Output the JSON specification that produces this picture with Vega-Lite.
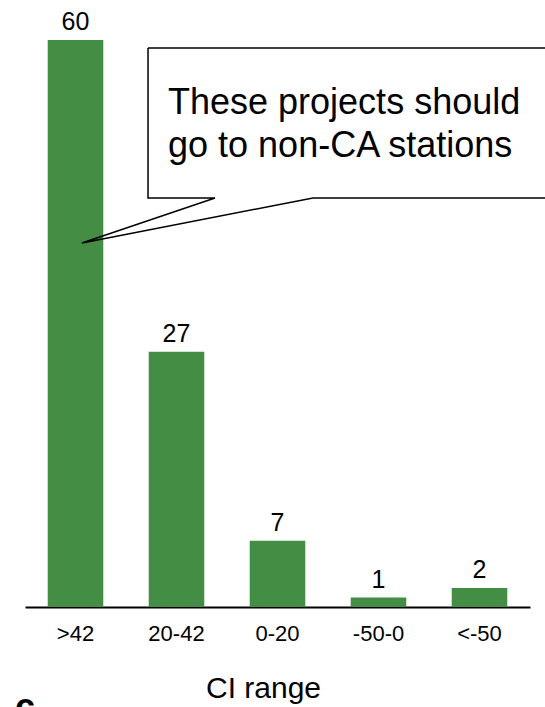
{
  "$schema": "https://vega.github.io/schema/vega-lite/v6.json",
  "width": 505,
  "height": 567,
  "autosize": {"type": "none"},
  "padding": {"left": 25, "top": 40, "right": 15, "bottom": 100},
  "config": {"view": {"stroke": null}, "font": "Liberation Sans"},
  "datasets": {
    "bars": [
      {"range": ">42", "count": 60},
      {"range": "20-42", "count": 27},
      {"range": "0-20", "count": 7},
      {"range": "-50-0", "count": 1},
      {"range": "<-50", "count": 2}
    ],
    "callout": [
      {"i": 0, "u": 1.218, "v": 59.15},
      {"i": 1, "u": 5.3, "v": 59.15},
      {"i": 2, "u": 5.3, "v": 43.28},
      {"i": 3, "u": 2.851, "v": 43.28},
      {"i": 4, "u": 0.564, "v": 38.52},
      {"i": 5, "u": 1.881, "v": 43.28},
      {"i": 6, "u": 1.218, "v": 43.28},
      {"i": 7, "u": 1.218, "v": 59.15}
    ],
    "notes": [
      {"u": 1.416, "v": 52.17, "label": ["These projects should", "go to non-CA stations"]}
    ],
    "panel": [
      {"u": -0.1, "v": -11.9, "label": "c"}
    ]
  },
  "layer": [
    {
      "data": {"name": "bars"},
      "encoding": {
        "x": {
          "field": "range",
          "type": "nominal",
          "sort": null,
          "scale": {"paddingInner": 0.45, "paddingOuter": 0.225},
          "axis": {
            "title": "CI range",
            "labelAngle": 0,
            "labelFontSize": 22,
            "labelColor": "#000000",
            "labelPadding": 16,
            "ticks": false,
            "tickSize": 0,
            "domainColor": "#000000",
            "domainWidth": 2,
            "titleFontSize": 30,
            "titleFontWeight": "normal",
            "titleColor": "#000000",
            "titleX": 238,
            "titleY": 90,
            "titleAlign": "center",
            "titleBaseline": "alphabetic"
          }
        },
        "y": {
          "field": "count",
          "type": "quantitative",
          "scale": {"domain": [0, 60], "nice": false},
          "axis": null
        }
      },
      "layer": [
        {"mark": {"type": "bar", "color": "#438E44"}},
        {
          "mark": {"type": "text", "baseline": "alphabetic", "dy": -10, "fontSize": 25, "color": "#000000"},
          "encoding": {"text": {"field": "count", "type": "quantitative"}}
        }
      ]
    },
    {
      "data": {"name": "callout"},
      "mark": {"type": "line", "color": "#000000", "strokeWidth": 1.5, "clip": false},
      "encoding": {
        "x": {"field": "u", "type": "quantitative", "scale": {"domain": [0, 5], "nice": false, "zero": false}, "axis": null},
        "y": {"field": "v", "type": "quantitative", "scale": {"domain": [0, 60], "nice": false}, "axis": null},
        "order": {"field": "i", "type": "quantitative"}
      }
    },
    {
      "data": {"name": "notes"},
      "mark": {"type": "text", "align": "left", "baseline": "alphabetic", "fontSize": 36, "lineHeight": 43, "color": "#000000"},
      "encoding": {
        "x": {"field": "u", "type": "quantitative", "scale": {"domain": [0, 5], "nice": false, "zero": false}, "axis": null},
        "y": {"field": "v", "type": "quantitative", "scale": {"domain": [0, 60], "nice": false}, "axis": null},
        "text": {"field": "label"}
      }
    },
    {
      "data": {"name": "panel"},
      "mark": {"type": "text", "align": "left", "baseline": "alphabetic", "fontSize": 36, "fontWeight": "bold", "color": "#000000"},
      "encoding": {
        "x": {"field": "u", "type": "quantitative", "scale": {"domain": [0, 5], "nice": false, "zero": false}, "axis": null},
        "y": {"field": "v", "type": "quantitative", "scale": {"domain": [0, 60], "nice": false}, "axis": null},
        "text": {"field": "label"}
      }
    }
  ],
  "resolve": {"scale": {"x": "independent"}, "axis": {"x": "independent"}}
}
